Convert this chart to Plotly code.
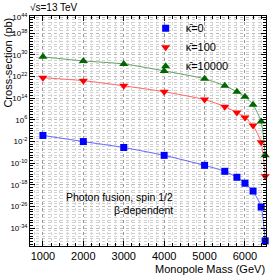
import plotly.graph_objects as go

mass = [1000, 2000, 3000, 4000, 5000, 5500, 5800, 6000, 6200, 6400, 6500]
xs_k0 = [1.8e0, 1e-2, 6.3e-5, 7.9e-8, 1.6e-11, 1e-13, 6.3e-16, 4e-18, 5e-21, 6.3e-27, 2e-39]
xs_k100 = [4e21, 3.2e20, 4e18, 2.5e16, 3.2e13, 8e10, 5e8, 8e6, 8e3, 5e-3, 1.6e-15]
xs_k10000 = [2e29, 6.3e27, 5e26, 1.3e24, 1.6e21, 4e18, 2.5e16, 4e14, 4e11, 2.5e5, 8e-8]

series = [
    ("κ̄=0", xs_k0, "#0000ff", "#6666ff", "square", 7),
    ("κ̄=100", xs_k100, "#ff0000", "#ff6666", "triangle-down", 8),
    ("κ̄=10000", xs_k10000, "#006600", "#66a066", "triangle-up", 8),
]

y_tick_exps = [-34, -26, -18, -10, -2, 6, 14, 22, 30, 38, 44]

fig = go.Figure()
for name, ys, mc, lc, sym, sz in series:
    fig.add_trace(go.Scatter(
        x=mass, y=ys, name=name, mode="lines+markers", showlegend=False,
        line=dict(color=lc, width=1, shape="spline", smoothing=0.6),
        marker=dict(symbol=sym, size=sz, color=mc),
        cliponaxis=False,
    ))
for name, ys, mc, lc, sym, sz in series:
    fig.add_trace(go.Scatter(
        x=[None], y=[None], name=name, mode="markers", showlegend=True,
        marker=dict(symbol=sym, size=sz, color=mc),
    ))

font = "Liberation Sans, Arial, Helvetica, sans-serif"
fig.update_layout(
    width=274, height=275,
    margin=dict(l=30, r=8, t=16, b=29),
    paper_bgcolor="white", plot_bgcolor="white",
    font=dict(family=font, color="black"),
    showlegend=True,
    legend=dict(x=0.49, y=1.01, xanchor="left", yanchor="top",
                bgcolor="rgba(0,0,0,0)", font=dict(size=11),
                itemwidth=30, tracegroupgap=0),
    xaxis=dict(
        range=[680, 6520], tickvals=[1000, 2000, 3000, 4000, 5000, 6000],
        tickfont=dict(size=11), ticks="inside", ticklen=5, tickcolor="black",
        ticklabelstandoff=0,
        showline=True, linecolor="black", mirror="ticks", linewidth=1,
        showgrid=True, gridcolor="#999999", griddash="dot", gridwidth=1,
        minor=dict(dtick=200, ticks="inside", ticklen=3, tickcolor="black",
                   showgrid=True, gridcolor="#d8d8d8", griddash="dot"),
        zeroline=False,
    ),
    yaxis=dict(
        type="log", range=[-40.6, 44.4],
        tickvals=[10.0 ** e for e in y_tick_exps],
        ticktext=["10<sup>%d</sup>" % e for e in y_tick_exps],
        tickfont=dict(size=8), ticks="inside", ticklen=5, tickcolor="black",
        showline=True, linecolor="black", mirror="ticks", linewidth=1,
        showgrid=True, gridcolor="#bbbbbb", griddash="dot", gridwidth=1,
        minor=dict(dtick=1, ticks="inside", ticklen=3, tickcolor="black",
                   showgrid=True, gridcolor="#d0d0d0", griddash="dot"),
        zeroline=False,
    ),
)
fig.add_annotation(text="Monopole Mass (GeV)", xref="paper", yref="paper",
                   x=1.005, y=-0.066, xanchor="right", yanchor="top",
                   showarrow=False, font=dict(size=11))
fig.add_annotation(text="Cross-section (pb)", xref="paper", yref="paper",
                   x=-0.095, y=1.0, xanchor="center", yanchor="top",
                   textangle=-90, showarrow=False, font=dict(size=11))
fig.add_annotation(text="√s=13 TeV", xref="paper", yref="paper",
                   x=-0.01, y=1.005, xanchor="left", yanchor="bottom",
                   showarrow=False, font=dict(size=10))
fig.add_annotation(text="Photon fusion, spin 1/2", xref="paper", yref="paper",
                   x=0.615, y=0.215, xanchor="right", yanchor="middle",
                   showarrow=False, font=dict(size=10.5))
fig.add_annotation(text="β-dependent", xref="paper", yref="paper",
                   x=0.615, y=0.157, xanchor="right", yanchor="middle",
                   showarrow=False, font=dict(size=10.5))
fig.write_html("out.html", config={"displayModeBar": False},
               post_script="document.body.style.margin='0';document.body.style.overflow='hidden';")
